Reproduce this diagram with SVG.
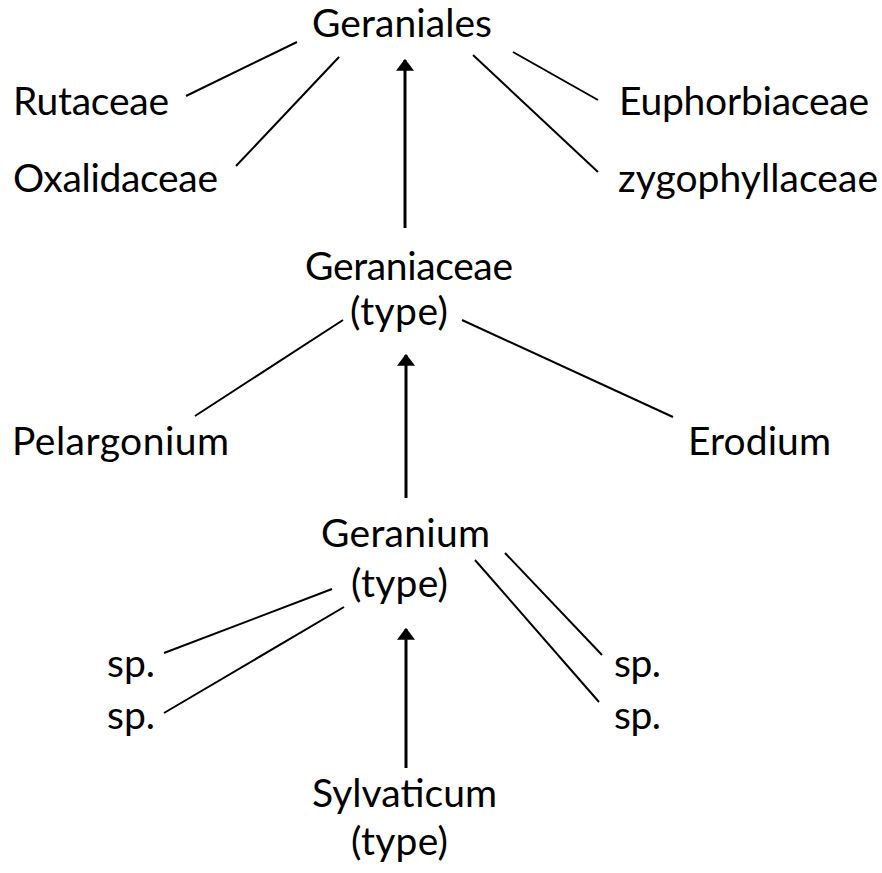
<svg xmlns="http://www.w3.org/2000/svg" width="882" height="873" viewBox="0 0 882 873">
<defs>
<style>
text{font-family:Lato,"Open Sans","Liberation Sans",sans-serif;font-size:39px;fill:#000;}
.ln{stroke:#000;stroke-width:2;fill:none;}
.ar{stroke:#000;stroke-width:3;fill:none;marker-end:url(#ah);}
</style>
<marker id="ah" markerWidth="4" markerHeight="6" refX="3.6" refY="3" orient="auto" markerUnits="strokeWidth">
<path d="M0,0 L4,3 L0,6 Z" fill="#000"/>
</marker>
</defs>
<rect width="882" height="873" fill="#fff"/>
<g id="connectors">
<line class="ln" x1="297" y1="42" x2="186" y2="96"/>
<line class="ln" x1="339" y1="57" x2="236" y2="166"/>
<line class="ln" x1="513" y1="52" x2="598" y2="100"/>
<line class="ln" x1="473" y1="55" x2="598" y2="172"/>
<line class="ar" x1="405" y1="228" x2="405" y2="60"/>
<line class="ln" x1="343" y1="320" x2="195" y2="416"/>
<line class="ln" x1="462" y1="320" x2="673" y2="417"/>
<line class="ar" x1="406" y1="498" x2="406" y2="355"/>
<line class="ln" x1="332" y1="589" x2="164" y2="653"/>
<line class="ln" x1="344" y1="607" x2="164" y2="713"/>
<line class="ln" x1="475" y1="560" x2="599" y2="702"/>
<line class="ln" x1="505" y1="553" x2="602" y2="655"/>
<line class="ar" x1="406" y1="768" x2="406" y2="629"/>
</g>
<g id="geraniales"><text x="312" y="37" textLength="180">Geraniales</text></g>
<g id="rutaceae"><text x="13" y="115" textLength="156">Rutaceae</text></g>
<g id="oxalidaceae"><text x="13" y="192" textLength="205">Oxalidaceae</text></g>
<g id="euphorbiaceae"><text x="619" y="115" textLength="250">Euphorbiaceae</text></g>
<g id="zygophyllaceae"><text x="618" y="192" textLength="260">zygophyllaceae</text></g>
<g id="geraniaceae"><text x="305" y="280" textLength="208">Geraniaceae</text><text x="350" y="325" textLength="98">(type)</text></g>
<g id="pelargonium"><text x="12" y="455" textLength="217">Pelargonium</text></g>
<g id="erodium"><text x="688" y="455" textLength="143">Erodium</text></g>
<g id="geranium"><text x="321" y="547" textLength="169">Geranium</text><text x="351" y="597" textLength="97">(type)</text></g>
<g id="sp1"><text x="107" y="677" textLength="48">sp.</text></g>
<g id="sp2"><text x="107" y="729" textLength="48">sp.</text></g>
<g id="sp3"><text x="614" y="677" textLength="47">sp.</text></g>
<g id="sp4"><text x="614" y="729" textLength="47">sp.</text></g>
<g id="sylvaticum"><text x="312" y="807" textLength="185">Sylvaticum</text><text x="351" y="855" textLength="97">(type)</text></g>
</svg>
